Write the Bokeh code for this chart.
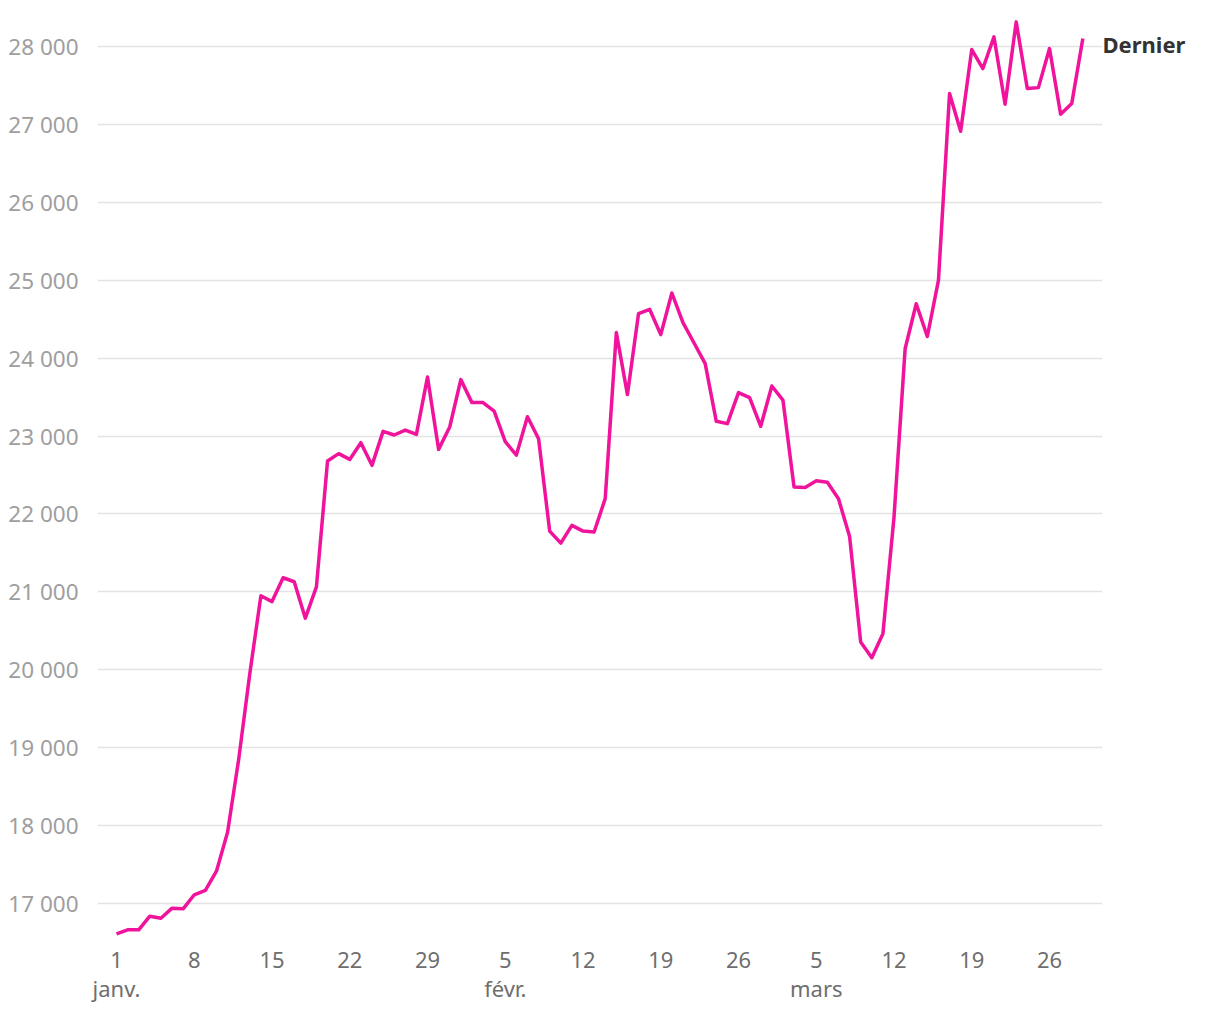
from bokeh.plotting import figure
from bokeh.models import Range1d, FixedTicker, LinearAxis
from bokeh.embed import file_html
from bokeh.resources import INLINE

# Daily values, 1 janv. -> 29 mars
values = [
    16610, 16662, 16662, 16837, 16811, 16940, 16932, 17112, 17167, 17415,
    17915, 18850, 19950, 20950, 20875, 21181, 21130, 20662, 21065, 22679,
    22774, 22700, 22915, 22624, 23060, 23013, 23077, 23022, 23757, 22829,
    23116, 23724, 23429, 23429, 23321, 22928, 22756, 23248, 22966, 21780,
    21626, 21853, 21780, 21768, 22196, 24328, 23532, 24572, 24627, 24302,
    24836, 24456, 24194, 23929, 23189, 23159, 23557, 23493, 23125, 23642,
    23462, 22345, 22340, 22426, 22408, 22196, 21712, 20355, 20154, 20462,
    21960, 24120, 24698, 24278, 24998, 27396, 26912, 27961, 27717, 28123,
    27258, 28316, 27460, 27472, 27973, 27130, 27267, 28102,
]
days = list(range(len(values)))

x_ticks = [0, 7, 14, 21, 28, 35, 42, 49, 56, 63, 70, 77, 84]
x_tick_labels = ["1\njanv.", "8", "15", "22", "29", "5\nfévr.", "12", "19", "26",
                 "5\nmars", "12", "19", "26"]
y_ticks = [17000, 18000, 19000, 20000, 21000, 22000, 23000, 24000, 25000,
           26000, 27000, 28000]
y_tick_labels = ["17 000", "18 000", "19 000", "20 000", "21 000", "22 000",
                 "23 000", "24 000", "25 000", "26 000", "27 000", "28 000"]
series_label = "Dernier"

FONT = "Noto Sans"
LINE_COLOR = "#f0139b"
Y0, Y1 = 16525, 28462

p = figure(width=1200, height=1010, output_backend="svg", toolbar_location=None,
           x_range=Range1d(-1.71, 88.77), y_range=Range1d(Y0, Y1),
           min_border_left=97, min_border_right=98, min_border_top=10,
           min_border_bottom=70)
p.outline_line_color = None
p.background_fill_color = "white"
p.border_fill_color = "white"

p.line(days, values, line_color=LINE_COLOR, line_width=3.5, line_join="round")

# grid
p.xgrid.grid_line_color = None
p.ygrid.grid_line_color = "#e3e3e3"
p.ygrid.grid_line_width = 1.5
p.ygrid.ticker = FixedTicker(ticks=y_ticks)

# y axis
p.yaxis.ticker = FixedTicker(ticks=y_ticks)
p.yaxis.major_label_overrides = {t: l for t, l in zip(y_ticks, y_tick_labels)}
p.yaxis.axis_line_color = None
p.yaxis.major_tick_line_color = None
p.yaxis.minor_tick_line_color = None
p.yaxis.major_label_standoff = 13
p.yaxis.major_label_text_font = FONT
p.yaxis.major_label_text_font_size = "22.5px"
p.yaxis.major_label_text_color = "#9e9e9e"

# x axis
p.xaxis.ticker = FixedTicker(ticks=x_ticks)
p.xaxis.major_label_overrides = {t: l for t, l in zip(x_ticks, x_tick_labels)}
p.xaxis.axis_line_color = None
p.xaxis.major_tick_line_color = None
p.xaxis.minor_tick_line_color = None
p.xaxis.major_label_standoff = -3
p.xaxis.major_label_text_font = FONT
p.xaxis.major_label_text_font_size = "22px"
p.xaxis.major_label_text_color = "#6e6e6e"
p.xaxis.major_label_text_line_height = 0.98

# series label at the last value, on a right-hand axis (label sits slightly below the value)
p.extra_y_ranges = {"label": Range1d(Y0 + 64, Y1 + 64)}
last_axis = LinearAxis(y_range_name="label", ticker=FixedTicker(ticks=[values[-1]]),
                       major_label_overrides={values[-1]: series_label})
last_axis.axis_line_color = None
last_axis.major_tick_line_color = None
last_axis.minor_tick_line_color = None
last_axis.major_label_standoff = -6
last_axis.major_label_text_font = FONT
last_axis.major_label_text_font_size = "22px"
last_axis.major_label_text_font_style = "bold"
last_axis.major_label_text_color = "#333333"
last_axis.major_label_text_baseline = "middle"
p.add_layout(last_axis, "right")

open("out.html", "w").write(file_html(p, INLINE))
